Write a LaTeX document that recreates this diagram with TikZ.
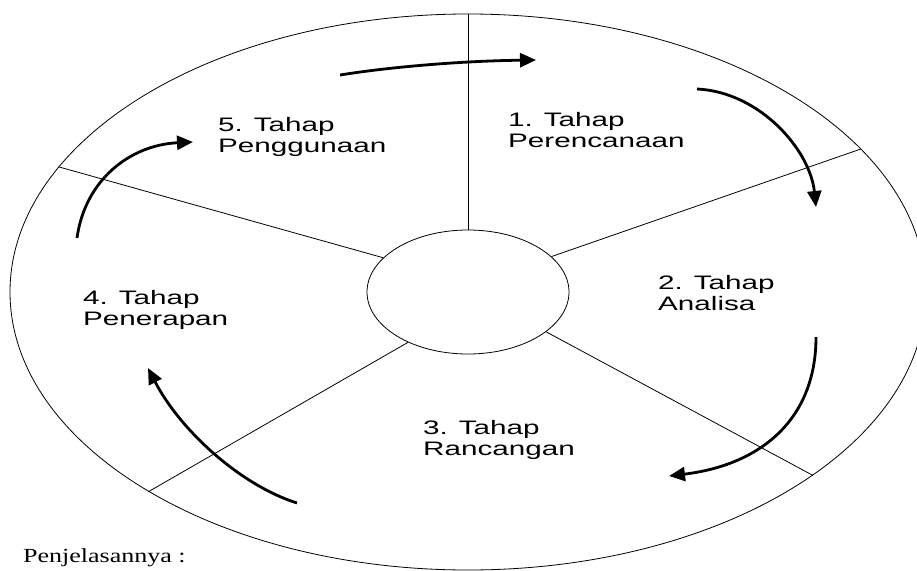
\documentclass[tikz,border=0pt]{standalone}
\usepackage{fontspec}
\newfontfamily\stagefont[FakeStretch=1.52]{Liberation Sans}
\newfontfamily\notefont[FakeStretch=1.3]{Liberation Serif}
\usetikzlibrary{shapes.geometric,arrows.meta}

\begin{document}
\begin{tikzpicture}
		[x=1pt,y=-1pt,
		ring/.style={draw,ellipse,line width=0.8pt,inner sep=0pt},
		spoke/.style={draw,line width=0.8pt},
		stage/.style={anchor=base west,align=left,inner sep=0pt,font=\stagefont\fontsize{19.5}{20.5}\selectfont},
		cycle/.style={line width=2.8pt,-{Triangle[length=16pt,width=14pt]}}]
		\useasboundingbox (0,0) rectangle (917,570);
		\clip (0,0) rectangle (917,570);
		% wheel
		\node[ring,minimum width=916,minimum height=556] (rim) at (468,292) {};
		\node[ring,minimum width=202,minimum height=124] (hub) at (468,292) {};
		\draw[spoke] (hub.north) -- (rim.north);
		\draw[spoke] (hub.23.4) -- (rim.20.3);
		\draw[spoke] (hub.-27.4) -- (rim.-28.2);
		\draw[spoke] (hub.220.9) -- (rim.212.3);
		\draw[spoke] (hub.158.2) -- (rim.163);
		% stages (base = last line)
		\node[stage] (s1) at (508,147) {1. Tahap\\Perencanaan};
		\node[stage] (s2) at (658,310) {2. Tahap\\Analisa};
		\node[stage] (s3) at (423,455) {3. Tahap\\Rancangan};
		\node[stage] (s4) at (83,325) {4. Tahap\\Penerapan};
		\node[stage] (s5) at (218,152) {5. Tahap\\Penggunaan};
		\node[anchor=base west,inner sep=0pt,font=\notefont\fontsize{20}{24}\selectfont] (note) at (23,562) {Penjelasannya :};
		% arrows
		\coordinate (a1) at (340,75);  \coordinate (b1) at (536,60);
		\coordinate (a2) at (697,89);  \coordinate (b2) at (816,207);
		\coordinate (a3) at (816,337); \coordinate (b3) at (669,476);
		\coordinate (a4) at (297,503); \coordinate (b4) at (148,368);
		\coordinate (a5) at (77,238);  \coordinate (b5) at (193,142);
		\draw[cycle] (a1) .. controls (390,67) and (460,61) .. (b1);
		\draw[cycle] (a2) .. controls (760,92) and (810,150) .. (b2);
		\draw[cycle] (a3) .. controls (816,420) and (760,465) .. (b3);
		\draw[cycle] (a4) .. controls (240,485) and (180,430) .. (b4);
		\draw[cycle] (a5) .. controls (85,180) and (130,145) .. (b5);
\end{tikzpicture}
\end{document}
